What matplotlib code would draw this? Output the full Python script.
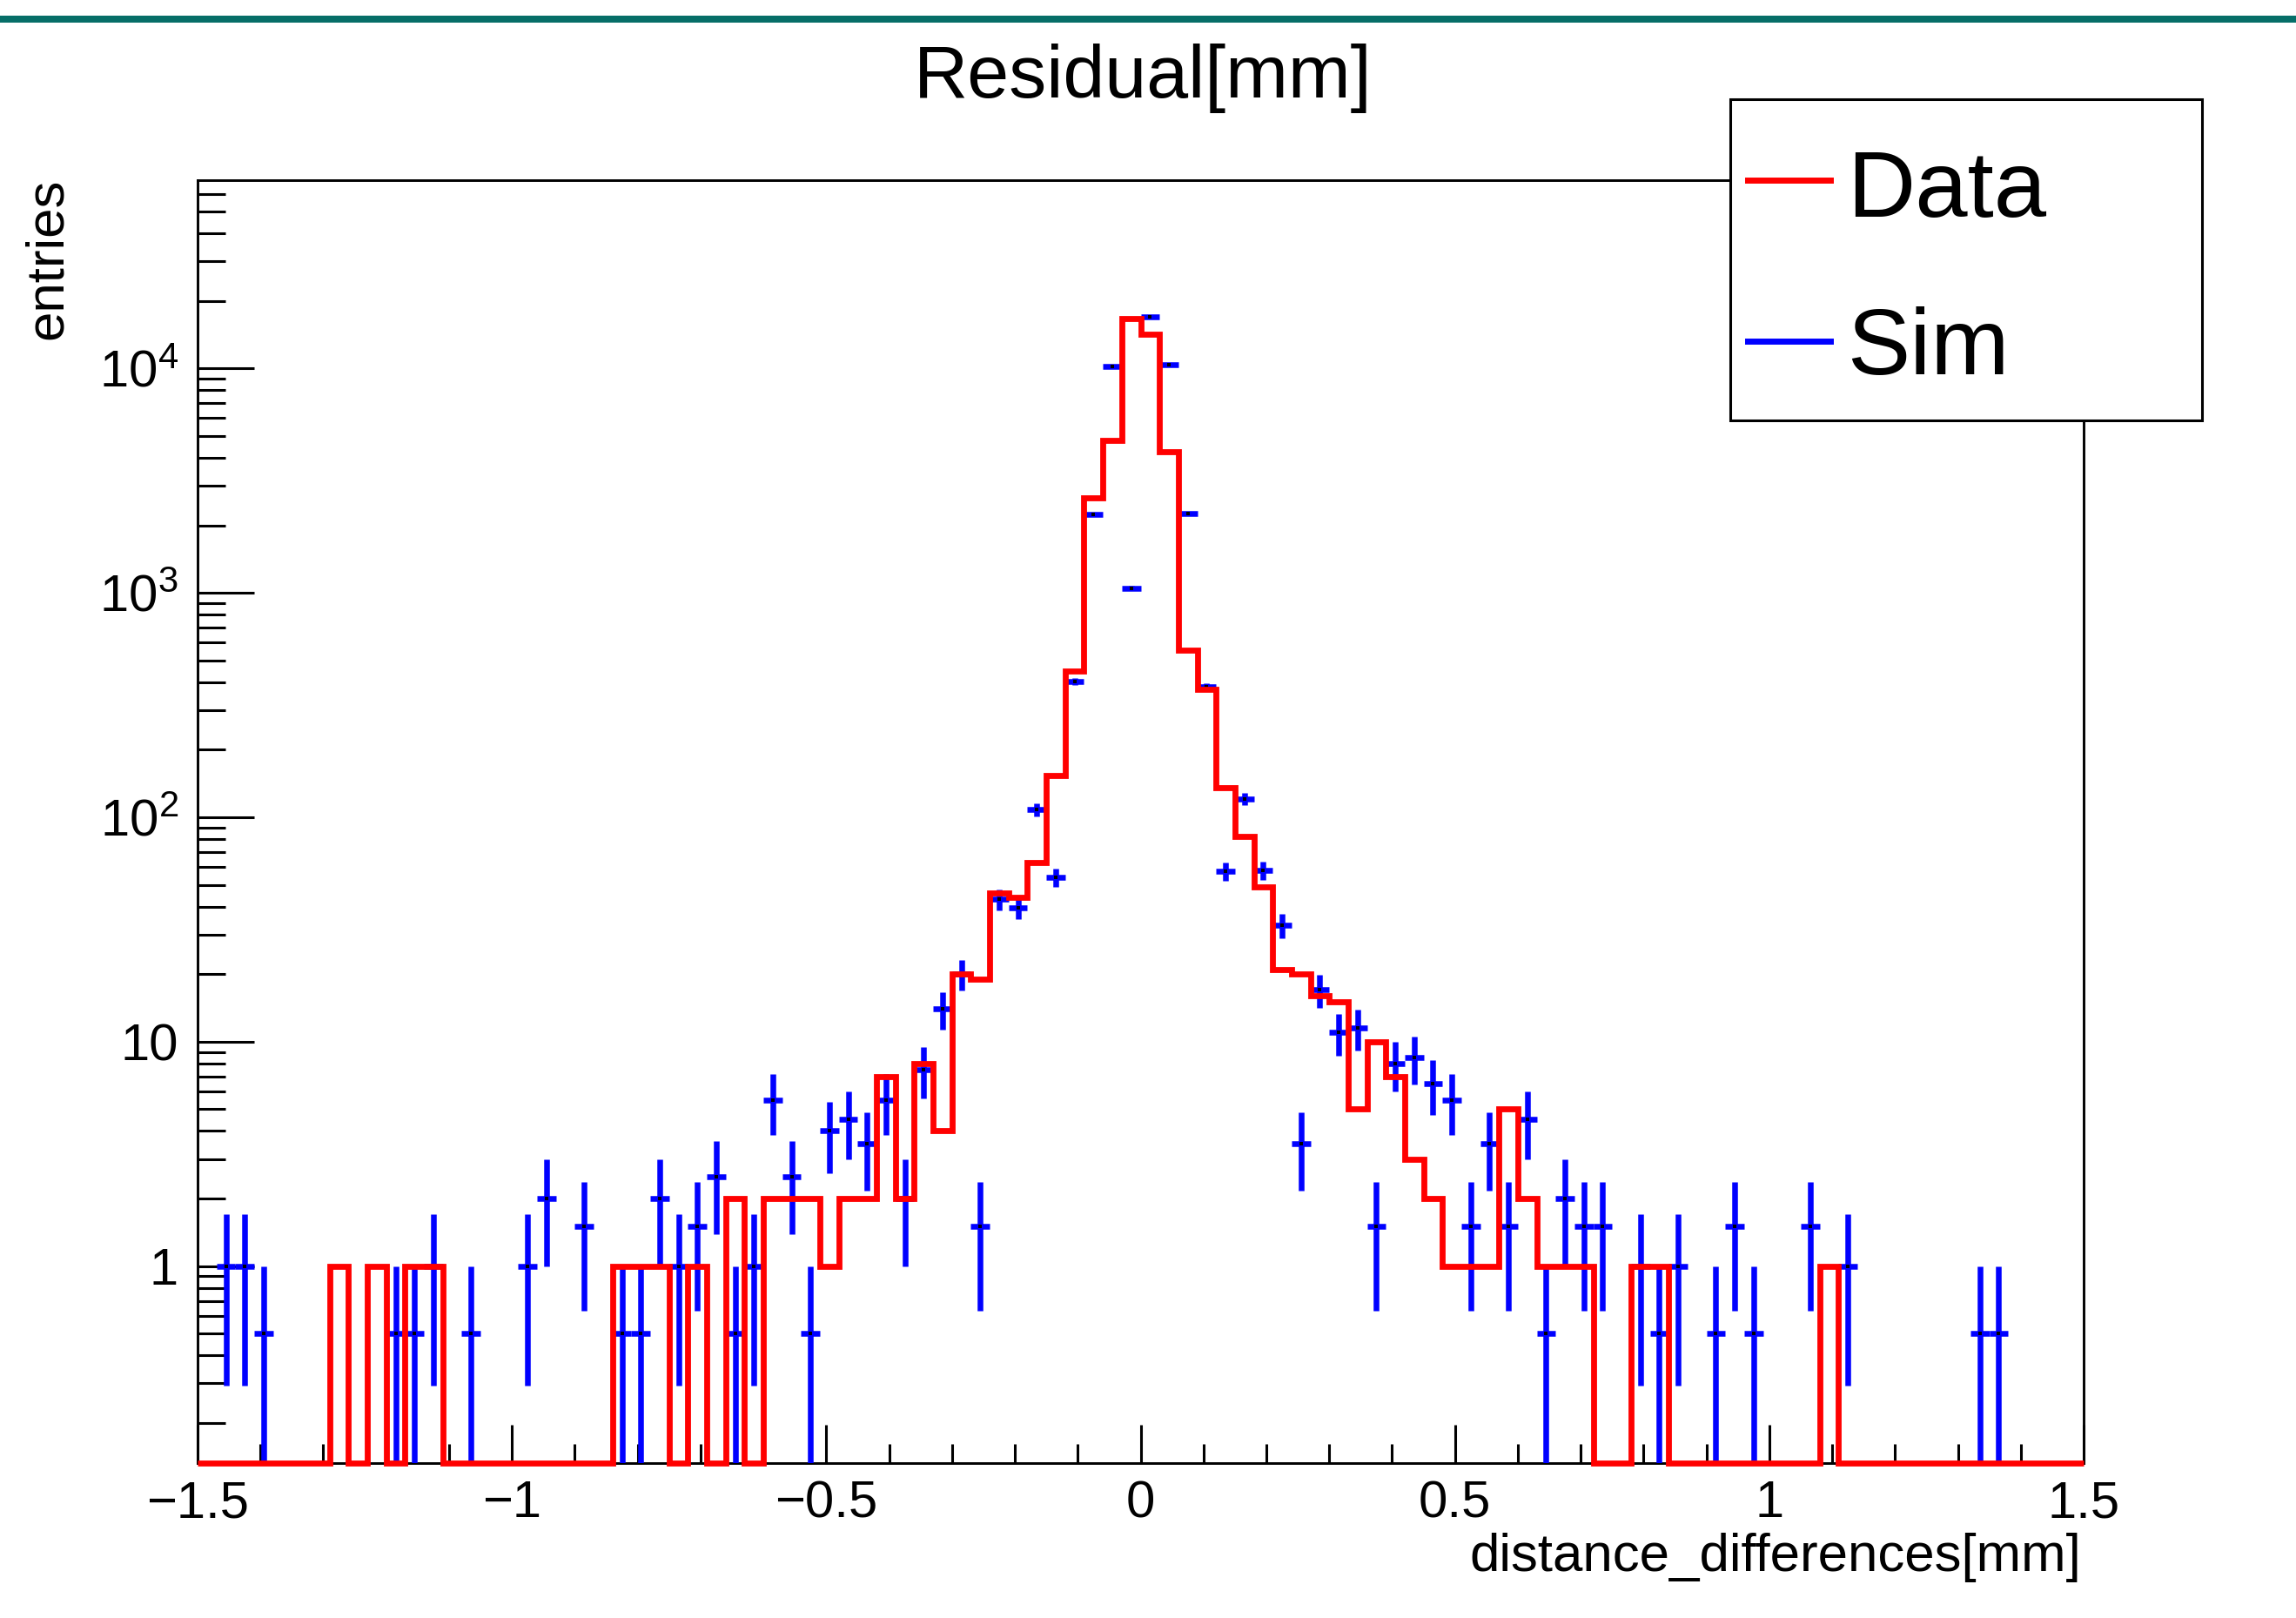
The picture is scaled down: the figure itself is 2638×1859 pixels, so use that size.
import matplotlib
matplotlib.use("Agg")
import matplotlib.pyplot as plt
import numpy as np
from matplotlib.ticker import FixedLocator, FixedFormatter, LogLocator, NullFormatter, MultipleLocator
from matplotlib.patches import Rectangle
from matplotlib.lines import Line2D

plt.rcParams['font.family'] = ['Liberation Sans', 'DejaVu Sans']
plt.rcParams['mathtext.fontset'] = 'custom'
plt.rcParams['mathtext.rm'] = 'Liberation Sans'
plt.rcParams['mathtext.it'] = 'Liberation Sans:italic'
plt.rcParams['mathtext.bf'] = 'Liberation Sans:bold'

# ---------------- data ----------------
x_range = (-1.5, 1.5)
n_bins = 100

data_counts = [
    0, 0, 0, 0, 0, 0, 0, 1, 0, 1,
    0, 1, 1, 0, 0, 0, 0, 0, 0, 0,
    0, 0, 1, 1, 1, 0, 1, 0, 2, 0,
    2, 2, 2, 1, 2, 2, 7, 2, 8, 4,
    20, 19, 46, 44, 63, 153, 448, 2650, 4770, 16640,
    14260, 4270, 555, 370, 136, 82, 49, 21, 20, 16,
    15, 5, 10, 7, 3, 2, 1, 1, 1, 5,
    2, 1, 1, 1, 0, 0, 1, 1, 0, 0,
    0, 0, 0, 0, 0, 0, 1, 0, 0, 0,
    0, 0, 0, 0, 0, 0, 0, 0, 0, 0,
]

sim_values = [
    0, 1, 1, 0.5, 0, 0, 0, 0, 0, 0,
    0.5, 0.5, 1, 0, 0.5, 0, 0, 1, 2, 0,
    1.5, 0, 0.5, 0.5, 2, 1, 1.5, 2.5, 0.5, 1,
    5.5, 2.5, 0.5, 4, 4.5, 3.5, 5.5, 2, 7.5, 14,
    20, 1.5, 43, 39.5, 108, 54, 402, 2232, 10240, 1050,
    17030, 10400, 2260, 380, 57.5, 121, 58, 33, 3.5, 17,
    11, 11.5, 1.5, 8, 8.5, 6.5, 5.5, 1.5, 3.5, 1.5,
    4.5, 0.5, 2, 1.5, 1.5, 0, 1, 0.5, 1, 0,
    0.5, 1.5, 0.5, 0, 0, 1.5, 0, 1, 0, 0,
    0, 0, 0, 0, 0.5, 0.5, 0, 0, 0, 0,
]
sim_weight = 0.5  # each simulated entry weighted 0.5

xtick_vals = [-1.5, -1, -0.5, 0, 0.5, 1, 1.5]
xtick_labels = ["\u22121.5", "\u22121", "\u22120.5", "0", "0.5", "1", "1.5"]
ytick_vals = [1, 10, 100, 1000, 10000]
ytick_labels = ["1", "10", r"$\mathregular{10^{2}}$", r"$\mathregular{10^{3}}$", r"$\mathregular{10^{4}}$"]

title = "Residual[mm]"
xlabel = "distance_differences[mm]"
ylabel = "entries"
legend_labels = ["Data", "Sim"]

# ---------------- figure ----------------
W, H = 2638, 1859
fig = plt.figure(figsize=(W / 100, H / 100), dpi=100)
fig.patch.set_facecolor("white")

ax = fig.add_axes([227 / W, 1 - 1681 / H, (2394 - 227) / W, (1681 - 207) / H])

edges = np.linspace(x_range[0], x_range[1], n_bins + 1)
centers = 0.5 * (edges[:-1] + edges[1:])
half_w = 0.5 * (edges[1] - edges[0])
ymin, ymax = 0.1325, 69000

ax.set_yscale("log")
ax.set_xlim(*x_range)
ax.set_ylim(ymin, ymax)

# Data histogram (zero bins drawn on the frame bottom, as ROOT does)
data = np.array(data_counts, dtype=float)
ax.stairs(np.maximum(data, ymin), edges, color="#ff0000", lw=4.9,
          baseline=None, zorder=5, clip_on=False)

# Sim points with errors
sim = np.array(sim_values, dtype=float)
m = sim > 0
err = np.sqrt(sim / sim_weight) * sim_weight
low_end = np.maximum(sim - err, ymin * 0.5)
ax.errorbar(centers[m], sim[m], xerr=half_w,
            yerr=[sim[m] - low_end[m], err[m]],
            fmt="s", ms=2.6, mfc="black", mec="black", mew=0,
            ecolor="#0000ff", elinewidth=4.7, capsize=0, zorder=4)

# ticks
ax.xaxis.set_major_locator(FixedLocator(xtick_vals))
ax.xaxis.set_major_formatter(FixedFormatter(xtick_labels))
ax.xaxis.set_minor_locator(MultipleLocator(0.1))
ax.yaxis.set_major_locator(FixedLocator(ytick_vals))
ax.yaxis.set_major_formatter(FixedFormatter(ytick_labels))
ax.yaxis.set_minor_locator(LogLocator(base=10, subs=np.arange(2, 10), numticks=30))
ax.yaxis.set_minor_formatter(NullFormatter())

ax.tick_params(which="both", direction="in", top=False, right=False,
               width=2.2, color="black")
ax.tick_params(axis="x", which="major", length=31.7, pad=14, labelsize=43)
ax.tick_params(axis="x", which="minor", length=15.8)
ax.tick_params(axis="y", which="major", length=46.8, pad=16, labelsize=43)
ax.tick_params(axis="y", which="minor", length=23)
for s in ax.spines.values():
    s.set_linewidth(2.1)

# texts
fig.text(1313 / W, 1 - 112.5 / H, title, fontsize=62, ha="center", va="baseline")
fig.text(2391 / W, 1 - 1805 / H, xlabel, fontsize=44.5, ha="right", va="baseline")
fig.text(55 / W, 1 - 205 / H, ylabel, fontsize=44.5, rotation=90, ha="center", va="top")

# top teal band
fig.patches.append(Rectangle((0, 1 - 26 / H), 1, 8 / H, transform=fig.transFigure,
                             facecolor="#066e68", edgecolor="none", zorder=1))

# legend box
fig.patches.append(Rectangle((1987.5 / W, 1 - 483.3 / H), (2529.8 - 1987.5) / W,
                             (483.3 - 114.3) / H, transform=fig.transFigure,
                             facecolor="white", edgecolor="black", lw=2.2, zorder=10))
fig.lines.append(Line2D([2008 / W, 2103 / W], [1 - 206.7 / H] * 2, transform=fig.transFigure,
                        color="#ff0000", lw=5, zorder=11))
fig.lines.append(Line2D([2008 / W, 2103 / W], [1 - 391.7 / H] * 2, transform=fig.transFigure,
                        color="#0000ff", lw=5, zorder=11))
fig.text(2122 / W, 1 - 249 / H, legend_labels[0], fontsize=78, ha="left", va="baseline", zorder=12)
fig.text(2122 / W, 1 - 430 / H, legend_labels[1], fontsize=78, ha="left", va="baseline", zorder=12)

fig.savefig("out.png", dpi=100)
